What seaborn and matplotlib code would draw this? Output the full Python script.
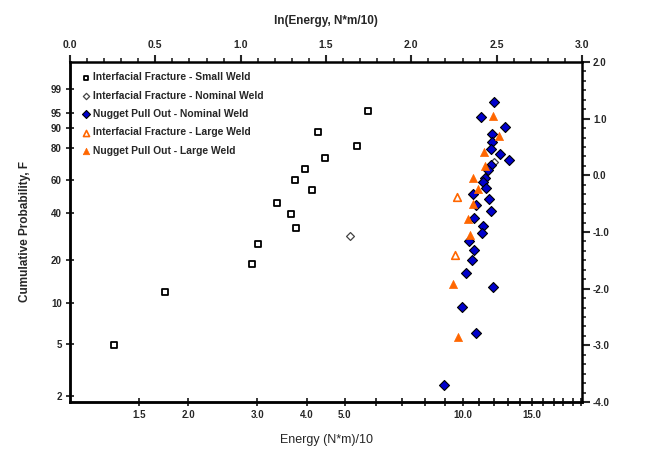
import numpy as np
import pandas as pd
import matplotlib
matplotlib.use('Agg')
import matplotlib.pyplot as plt
import seaborn as sns
from matplotlib.ticker import MultipleLocator, FixedLocator

sns.set_style('white')
plt.rcParams['font.family'] = ['Liberation Sans', 'DejaVu Sans']

# ---- data: x = ln(Energy), y = ln(-ln(1-F)) (Weibull ordinate) ----
if_small_x = [1.744, 1.451, 1.681, 1.492, 1.378, 1.316, 1.419, 1.213, 1.296,
              1.324, 1.100, 1.064, 0.555, 0.260]
if_small_y = [1.13, 0.76, 0.52, 0.31, 0.12, -0.08, -0.26, -0.48, -0.68,
              -0.93, -1.22, -1.57, -2.06, -3.00]

if_nom_x = [1.640, 2.484]
if_nom_y = [-1.065, 0.235]

npo_nom_x = [2.484, 2.406, 2.551, 2.475, 2.470, 2.465, 2.520, 2.574, 2.466,
             2.452, 2.429, 2.421, 2.436, 2.363, 2.453, 2.376, 2.468, 2.369,
             2.419, 2.412, 2.339, 2.365, 2.353, 2.318, 2.480, 2.295, 2.380,
             2.189]
npo_nom_y = [1.299, 1.035, 0.848, 0.724, 0.580, 0.461, 0.377, 0.271, 0.191,
             0.089, -0.042, -0.123, -0.223, -0.324, -0.417, -0.515, -0.624,
             -0.753, -0.889, -1.009, -1.159, -1.323, -1.499, -1.723, -1.976,
             -2.318, -2.787, -3.694]

if_large_x = [2.269, 2.255]
if_large_y = [-0.386, -1.406]

npo_large_x = [2.476, 2.515, 2.424, 2.431, 2.359, 2.388, 2.359, 2.333, 2.343,
               2.242, 2.275]
npo_large_y = [1.047, 0.694, 0.417, 0.165, -0.042, -0.246, -0.511, -0.765,
               -1.053, -1.917, -2.853]

series_names = ["Interfacial Fracture - Small Weld",
                "Interfacial Fracture - Nominal Weld",
                "Nugget Pull Out - Nominal Weld",
                "Interfacial Fracture - Large Weld",
                "Nugget Pull Out - Large Weld"]

# axis tick values
top_ticks = [0.0, 0.5, 1.0, 1.5, 2.0, 2.5, 3.0]
right_ticks = [-4.0, -3.0, -2.0, -1.0, 0.0, 1.0, 2.0]
energy_major = [1.5, 2.0, 3.0, 4.0, 5.0, 10.0, 15.0]
energy_minor = [6, 7, 8, 9, 11, 12, 13, 14, 16, 17, 18, 19, 20]
prob_ticks = [2, 5, 10, 20, 40, 60, 80, 90, 95, 99]

# ---- figure ----
fig = plt.figure(figsize=(6.52, 4.51), dpi=100)
ax = fig.add_axes([70/652, 1-402/451, 512/652, 340/451])

frames = {
    series_names[0]: (if_small_x, if_small_y),
    series_names[1]: (if_nom_x, if_nom_y),
    series_names[2]: (npo_nom_x, npo_nom_y),
    series_names[3]: (if_large_x, if_large_y),
    series_names[4]: (npo_large_x, npo_large_y),
}
styles = {
    series_names[0]: dict(marker='s', s=20, facecolor='white', edgecolor='black', linewidth=1.3),
    series_names[1]: dict(marker='D', s=16, facecolor='white', edgecolor='#444444', linewidth=0.9),
    series_names[2]: dict(marker='D', s=26, facecolor='#0000cc', edgecolor='black', linewidth=0.8),
    series_names[3]: dict(marker='^', s=30, facecolor='white', edgecolor='#ff6600', linewidth=1.2),
    series_names[4]: dict(marker='^', s=34, facecolor='#ff6600', edgecolor='#ff6600', linewidth=0.5),
}
for name in series_names:
    xs, ys = frames[name]
    df = pd.DataFrame({'x': xs, 'y': ys})
    st = styles[name]
    sns.scatterplot(data=df, x='x', y='y', ax=ax, marker=st['marker'], s=st['s'],
                    facecolor=st['facecolor'], edgecolor=st['edgecolor'],
                    linewidth=st['linewidth'], label=name, zorder=3)

ax.set_xlim(0, 3)
ax.set_ylim(-4, 2)
for sp in ax.spines.values():
    sp.set_linewidth(1.8)
    sp.set_color('black')

# top axis: ln(Energy)
ax.xaxis.tick_top()
ax.xaxis.set_label_position('top')
ax.set_xticks(top_ticks)
ax.set_xticklabels([f"{t:.1f}" for t in top_ticks], fontsize=7.5, fontweight='bold')
ax.xaxis.set_minor_locator(MultipleLocator(0.1))
ax.set_xlabel("ln(Energy, N*m/10)", fontsize=8.5, fontweight='bold', labelpad=11)
ax.tick_params(axis='x', which='major', direction='out', length=5, width=1.5, pad=4)
ax.tick_params(axis='x', which='minor', direction='out', length=3, width=1.2)

# right axis: Weibull ordinate
ax.yaxis.tick_right()
ax.set_yticks(right_ticks)
ax.set_yticklabels([f"{t:.1f}" for t in right_ticks], fontsize=7, fontweight='bold')
ax.yaxis.set_minor_locator(MultipleLocator(1/6))
ax.set_ylabel("")
ax.tick_params(axis='y', which='major', direction='out', length=6, width=1.5, pad=2)
ax.tick_params(axis='y', which='minor', direction='out', length=3, width=1.2)

# bottom axis: Energy on log scale
secx = ax.secondary_xaxis('bottom')
secx.set_xticks(np.log(energy_major))
secx.set_xticklabels([f"{e:.1f}" for e in energy_major], fontsize=7, fontweight='bold')
secx.xaxis.set_minor_locator(FixedLocator(np.log(energy_minor)))
secx.tick_params(axis='x', which='major', direction='inout', length=6, width=1.3, pad=3)
secx.tick_params(axis='x', which='minor', direction='inout', length=6, width=1.3)
secx.spines['bottom'].set_linewidth(1.8)
secx.set_xlabel("Energy (N*m)/10", fontsize=9, labelpad=10)

# left axis: cumulative probability
secy = ax.secondary_yaxis('left')
pv = np.array(prob_ticks) / 100.0
secy.set_yticks(np.log(-np.log(1 - pv)))
secy.set_yticklabels([str(p) for p in prob_ticks], fontsize=7, fontweight='bold')
secy.tick_params(axis='y', which='major', direction='inout', length=6, width=1.3, pad=3)
secy.spines['left'].set_linewidth(1.8)
secy.set_ylabel("Cumulative Probability, F", fontsize=8.5, fontweight='bold', labelpad=14)

leg = ax.legend(loc='upper left', bbox_to_anchor=(0.024, 0.97), frameon=False,
                handlelength=0.7, handletextpad=0.3, labelspacing=0.82,
                borderaxespad=0, borderpad=0, markerscale=0.8,
                prop={'weight': 'bold', 'size': 7.4})

fig.savefig('out.png', dpi=100)
